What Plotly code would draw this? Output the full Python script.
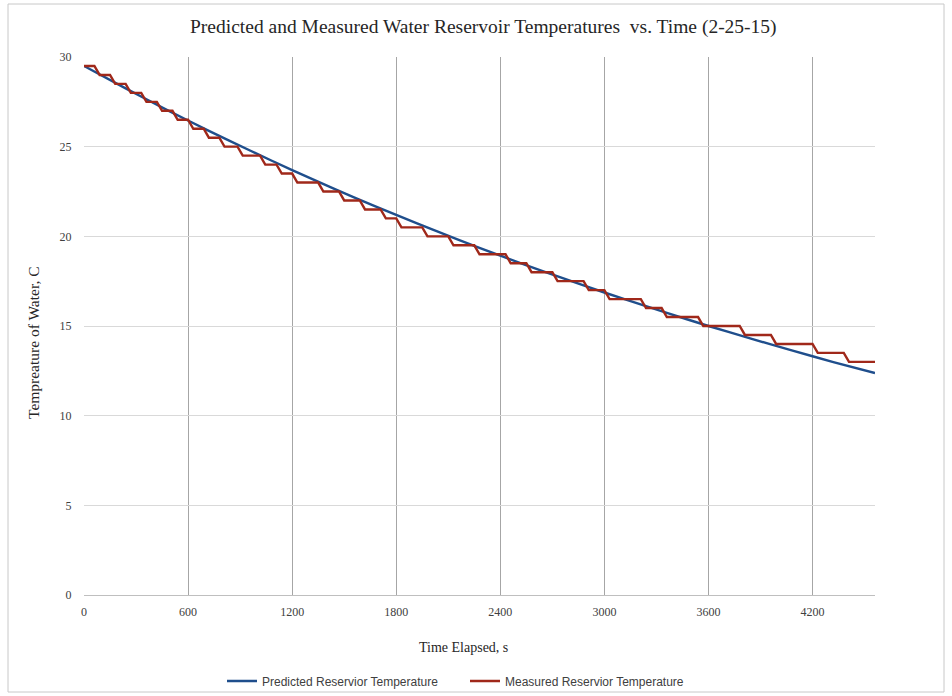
import plotly.graph_objects as go

# ---- data ----
predicted_time = [0, 240, 480, 720, 960, 1200, 1440, 1680, 1920, 2160, 2400,
                  2640, 2880, 3120, 3360, 3600, 3840, 4080, 4320, 4560]
predicted_temp = [29.50, 28.25, 27.04, 25.88, 24.77, 23.69, 22.66, 21.67, 20.72, 19.80, 18.92,
                  18.08, 17.26, 16.48, 15.73, 15.00, 14.31, 13.64, 12.99, 12.38]

measured_time = [0, 60, 90, 150, 180, 240, 270, 330, 360, 420, 450, 510, 540, 600,
                 630, 690, 720, 780, 810, 885, 915, 1015, 1045, 1110, 1140, 1200,
                 1230, 1350, 1380, 1470, 1500, 1590, 1620, 1710, 1740, 1800, 1830, 1950,
                 1980, 2100, 2130, 2250, 2280, 2430, 2460, 2550, 2580, 2700, 2730, 2880,
                 2910, 3000, 3030, 3210, 3240, 3330, 3360, 3540, 3570, 3780, 3810, 3960,
                 3990, 4200, 4230, 4380, 4410, 4560]
measured_temp = [29.5, 29.5, 29.0, 29.0, 28.5, 28.5, 28.0, 28.0, 27.5, 27.5, 27.0, 27.0, 26.5, 26.5,
                 26.0, 26.0, 25.5, 25.5, 25.0, 25.0, 24.5, 24.5, 24.0, 24.0, 23.5, 23.5,
                 23.0, 23.0, 22.5, 22.5, 22.0, 22.0, 21.5, 21.5, 21.0, 21.0, 20.5, 20.5,
                 20.0, 20.0, 19.5, 19.5, 19.0, 19.0, 18.5, 18.5, 18.0, 18.0, 17.5, 17.5,
                 17.0, 17.0, 16.5, 16.5, 16.0, 16.0, 15.5, 15.5, 15.0, 15.0, 14.5, 14.5,
                 14.0, 14.0, 13.5, 13.5, 13.0, 13.0]

x_ticks = [0, 600, 1200, 1800, 2400, 3000, 3600, 4200]
y_ticks = [0, 5, 10, 15, 20, 25, 30]

title_text = "Predicted and Measured Water Reservoir Temperatures  vs. Time (2-25-15)"
x_title = "Time Elapsed, s"
y_title = "Tempreature of Water, C"
name_pred = "Predicted Reservior Temperature"
name_meas = "Measured Reservior Temperature"

BLUE = "#1f4e8c"
RED = "#a0281a"
SERIF = "Liberation Serif, Times New Roman, serif"
SANS = "Liberation Sans Narrow, Liberation Sans, Arial, sans-serif"

fig = go.Figure()
fig.add_trace(go.Scatter(x=predicted_time, y=predicted_temp, mode="lines", name=name_pred,
                         line=dict(color=BLUE, width=2.4, shape="spline", smoothing=0.6)))
fig.add_trace(go.Scatter(x=measured_time, y=measured_temp, mode="lines", name=name_meas,
                         line=dict(color=RED, width=2.4)))

W, H = 952, 696
L, R, T, B = 84, 77, 57, 101
pw, ph = W - L - R, H - T - B

def px(xp):
    return (xp - L) / pw

def py(yp):
    return (H - B - yp) / ph

fig.update_layout(
    width=W, height=H,
    margin=dict(l=L, r=R, t=T, b=B, autoexpand=False),
    paper_bgcolor="white", plot_bgcolor="white",
    showlegend=True,
    legend=dict(orientation="h", x=px(222), xanchor="left", y=py(681), yanchor="middle",
                font=dict(family=SANS, size=12, color="#404040"),
                itemwidth=30, entrywidth=198, entrywidthmode="pixels",
                tracegroupgap=0, bgcolor="rgba(0,0,0,0)"),
    xaxis=dict(range=[0, 4560], tickvals=x_ticks, ticktext=[str(v) for v in x_ticks],
               showgrid=True, gridcolor="#a6a6a6", gridwidth=1.4,
               zeroline=False, showline=True, linecolor="#bfbfbf", linewidth=1,
               ticks="outside", ticklen=6, tickcolor="rgba(0,0,0,0)",
               tickfont=dict(family=SERIF, size=12, color="#404040")),
    yaxis=dict(range=[0, 30], tickvals=y_ticks, showgrid=True, gridcolor="#d9d9d9", gridwidth=1,
               zeroline=False, showline=False,
               ticks="outside", ticklen=9, tickcolor="rgba(0,0,0,0)",
               tickfont=dict(family=SERIF, size=12, color="#404040")),
    annotations=[
        dict(text=title_text, x=px(484), y=py(27), xref="paper", yref="paper",
             showarrow=False, xanchor="center", yanchor="middle",
             font=dict(family=SERIF, size=19.5, color="#262626")),
        dict(text=x_title, x=px(463), y=py(647), xref="paper", yref="paper",
             showarrow=False, xanchor="center", yanchor="middle",
             font=dict(family=SERIF, size=14, color="#262626")),
        dict(text=y_title, x=px(33), y=py(343), xref="paper", yref="paper",
             showarrow=False, xanchor="center", yanchor="middle", textangle=-90,
             font=dict(family=SERIF, size=15.5, color="#262626")),
    ],
    shapes=[dict(type="rect", xref="paper", yref="paper",
                 x0=px(8), x1=px(944), y0=py(692), y1=py(4),
                 line=dict(color="#c8c8c8", width=1), layer="below")],
)

fig.write_html("out.html", config={"displayModeBar": False},
               post_script="document.body.style.margin='0';document.body.style.overflow='hidden';")
